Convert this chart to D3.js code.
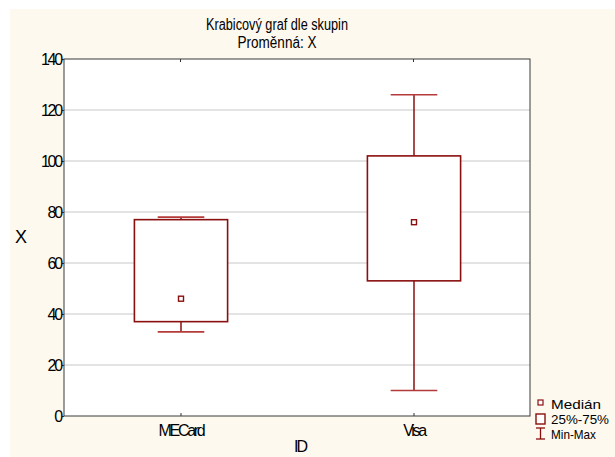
<!DOCTYPE html>
<html><head><meta charset="utf-8">
<script src="https://cdn.jsdelivr.net/npm/d3@7"></script>
<style>html,body{margin:0;padding:0;background:#fff;}svg{display:block;}</style>
</head><body>
<svg id="c" width="615" height="457"></svg>
<script>
const categories = ["MECard", "Visa"];
const medians = [46, 76];
const q1 = [37, 53];
const q3 = [77, 102];
const mins = [33, 10];
const maxs = [78, 126];
const yTicks = [0, 20, 40, 60, 80, 100, 120, 140];
const titleLines = ["Krabicový graf dle skupin", "Proměnná: X"];
const legendLabels = ["Medián", "25%-75%", "Min-Max"];

const svg = d3.select("#c");
const W = 615, H = 457;
const m = {l: 64, r: 530, t: 59, b: 416};
const red = "#8a0f0f";
const font = "'Liberation Sans', Arial, sans-serif";

svg.append("rect").attr("x", 10).attr("y", 9).attr("width", W - 10).attr("height", H - 9).attr("fill", "#fdf9ef");
svg.append("rect").attr("x", m.l).attr("y", m.t).attr("width", m.r - m.l).attr("height", m.b - m.t).attr("fill", "#fff");

const x = d3.scalePoint().domain(categories).range([m.l, m.r]).padding(0.5);
const y = d3.scaleLinear().domain([0, 140]).range([m.b, m.t]);

// grid
svg.append("g").selectAll("line").data(yTicks.filter(d => d > 0 && d < 140)).join("line")
  .attr("x1", m.l).attr("x2", m.r).attr("y1", d => y(d)).attr("y2", d => y(d))
  .attr("stroke", "#c8c8c8").attr("stroke-width", 1);

// y axis
const ya = svg.append("g").attr("transform", `translate(${m.l},0)`)
  .call(d3.axisLeft(y).tickValues(yTicks).tickSize(2).tickPadding(1));
ya.select(".domain").remove();
ya.selectAll("line").attr("stroke", "#333");
ya.selectAll("text").attr("font-family", font).attr("font-size", 16).attr("fill", "#000")
  .attr("letter-spacing", -2.2).attr("dy", "0.35em");

// x axis (bottom, inward ticks)
const xa = svg.append("g").attr("transform", `translate(0,${m.b})`)
  .call(d3.axisBottom(x).tickSizeInner(-3).tickSizeOuter(0).tickPadding(6));
xa.select(".domain").remove();
xa.selectAll("line").attr("stroke", "#333");
xa.selectAll("text").attr("font-family", font).attr("font-size", 16).attr("fill", "#000")
  .attr("letter-spacing", -2.3).attr("dy", "0.85em");

// top ticks
svg.append("g").selectAll("line").data(categories).join("line")
  .attr("x1", d => x(d)).attr("x2", d => x(d)).attr("y1", m.t).attr("y2", m.t + 3).attr("stroke", "#333");

// frame
svg.append("rect").attr("x", m.l).attr("y", m.t).attr("width", m.r - m.l).attr("height", m.b - m.t)
  .attr("fill", "none").attr("stroke", "#3a3a3a").attr("stroke-width", 1);

// boxes
const bw = x.step() * 0.4;
const cw = bw / 2;
const g = svg.append("g");
categories.forEach((c, i) => {
  const cx = Math.round(x(c));
  g.append("line").attr("x1", cx).attr("x2", cx).attr("y1", y(q3[i])).attr("y2", y(maxs[i]))
    .attr("stroke", red).attr("stroke-width", 1.5);
  g.append("line").attr("x1", cx).attr("x2", cx).attr("y1", y(q1[i])).attr("y2", y(mins[i]))
    .attr("stroke", red).attr("stroke-width", 1.5);
  [maxs[i], mins[i]].forEach(v => {
    g.append("line").attr("x1", cx - cw / 2).attr("x2", cx + cw / 2).attr("y1", y(v)).attr("y2", y(v))
      .attr("stroke", "#b53a3a").attr("stroke-width", 1.6);
  });
  g.append("rect").attr("x", cx - bw / 2).attr("y", y(q3[i])).attr("width", bw).attr("height", y(q1[i]) - y(q3[i]))
    .attr("fill", "#fff").attr("stroke", red).attr("stroke-width", 1.6);
  g.append("rect").attr("x", cx - 2.5).attr("y", y(medians[i]) - 2.5).attr("width", 5).attr("height", 5)
    .attr("fill", "#fff").attr("stroke", red).attr("stroke-width", 1.4);
});

// title
titleLines.forEach((t, i) => {
  svg.append("text").attr("x", 277).attr("y", 30 + i * 18).attr("text-anchor", "middle")
    .attr("font-family", font).attr("font-size", 16).attr("fill", "#000")
    .attr("textLength", i === 0 ? 142 : 79).attr("lengthAdjust", "spacingAndGlyphs").text(t);
});

// axis titles
svg.append("text").attr("x", 21).attr("y", 243).attr("text-anchor", "middle")
  .attr("font-family", font).attr("font-size", 18).attr("fill", "#000").text("X");
svg.append("text").attr("x", 300).attr("y", 452).attr("text-anchor", "middle")
  .attr("font-family", font).attr("font-size", 16).attr("fill", "#000")
  .attr("letter-spacing", -2).text("ID");

// legend
const lg = svg.append("g");
const ly = [404, 419, 434];
lg.append("rect").attr("x", 538).attr("y", ly[0] - 4).attr("width", 5).attr("height", 5)
  .attr("fill", "#fff").attr("stroke", red).attr("stroke-width", 1.2);
lg.append("rect").attr("x", 536).attr("y", ly[1] - 5).attr("width", 9).attr("height", 10)
  .attr("fill", "#fff").attr("stroke", red).attr("stroke-width", 1.4);
lg.append("line").attr("x1", 540.5).attr("x2", 540.5).attr("y1", ly[2] - 6).attr("y2", ly[2] + 5).attr("stroke", red).attr("stroke-width", 1.3);
lg.append("line").attr("x1", 536).attr("x2", 545).attr("y1", ly[2] - 6).attr("y2", ly[2] - 6).attr("stroke", red).attr("stroke-width", 1.3);
lg.append("line").attr("x1", 536).attr("x2", 545).attr("y1", ly[2] + 5).attr("y2", ly[2] + 5).attr("stroke", red).attr("stroke-width", 1.3);
const lw = [50, 58, 45];
legendLabels.forEach((t, i) => {
  lg.append("text").attr("x", 551).attr("y", ly[i] + 5).attr("font-family", font).attr("font-size", 13)
    .attr("fill", "#000").attr("textLength", lw[i]).attr("lengthAdjust", "spacingAndGlyphs").text(t);
});
</script>
</body></html>
